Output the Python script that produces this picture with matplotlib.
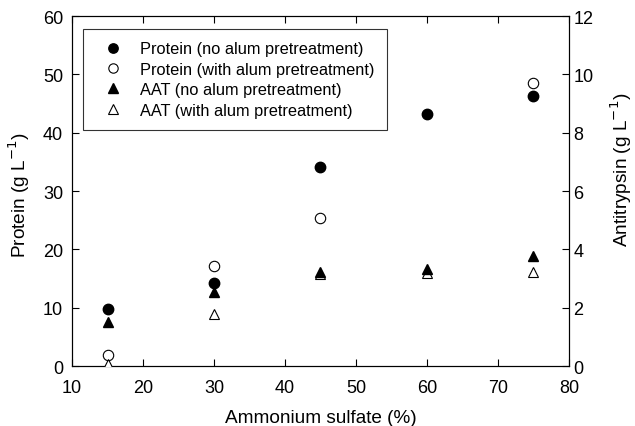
import numpy as np
import matplotlib
matplotlib.use("Agg")
import matplotlib.pyplot as plt

plt.rcParams['font.family'] = ['Liberation Sans', 'DejaVu Sans']

x = [15, 30, 45, 60, 75]
protein_no_alum = [9.7, 14.2, 34.1, 43.2, 46.3]
protein_alum = [1.9, 17.1, 25.3, np.nan, 48.5]
aat_no_alum = [1.52, 2.54, 3.22, 3.34, 3.78]
aat_alum = [0.06, 1.8, 3.16, 3.18, 3.22]

fig = plt.figure(figsize=(6.35, 4.27), dpi=100)
ax = fig.add_axes([0.1134, 0.1405, 0.7826, 0.8195])
ax2 = ax.twinx()

ms = 7.5
h1, = ax.plot(x, protein_alum, 'o', mfc='white', mec='black', mew=0.8, ms=ms, zorder=3,
              label='Protein (with alum pretreatment)')
h0, = ax.plot(x, protein_no_alum, 'o', mfc='black', mec='black', ms=ms, zorder=4,
              label='Protein (no alum pretreatment)')
h3, = ax2.plot(x, aat_alum, '^', mfc='white', mec='black', mew=0.8, ms=ms, zorder=3,
               label='AAT (with alum pretreatment)')
h2, = ax2.plot(x, aat_no_alum, '^', mfc='black', mec='black', ms=ms, zorder=4,
               label='AAT (no alum pretreatment)')

ax.set_xlim(10, 80)
ax.set_ylim(0, 60)
ax2.set_ylim(0, 12)
ax.set_xticks(range(10, 81, 10))
ax.set_yticks(range(0, 61, 10))
ax2.set_yticks(range(0, 13, 2))

ax.tick_params(axis='x', direction='in', length=5, width=0.8, labelsize=13, top=True, pad=9)
ax.tick_params(axis='y', direction='in', length=5, width=0.8, labelsize=13, pad=6.5)
ax2.tick_params(direction='in', length=5, width=0.8, labelsize=13, pad=3)
for a in (ax, ax2):
    for s in a.spines.values():
        s.set_linewidth(0.8)

ax.set_xlabel('Ammonium sulfate (%)', fontsize=13.7)
ax.xaxis.set_label_coords(0.501, -0.122)
ax.set_ylabel('Protein (g L$^{-1}$)', fontsize=13.7)
ax.yaxis.set_label_coords(-0.0805, 0.491)
ax2.set_ylabel('Antitrypsin (g L$^{-1}$)', fontsize=13.7)
ax2.yaxis.set_label_coords(1.079, 0.563)

leg = ax.legend(handles=[h0, h1, h2, h3], loc='upper left', bbox_to_anchor=(0.022, 0.963),
                fontsize=11.8, frameon=True, fancybox=False, edgecolor='black',
                borderpad=0.75, handlelength=2.2, handletextpad=0.55, labelspacing=0.33,
                markerscale=0.9, borderaxespad=0)
leg.get_frame().set_linewidth(0.8)

fig.savefig('out.png', dpi=100)
